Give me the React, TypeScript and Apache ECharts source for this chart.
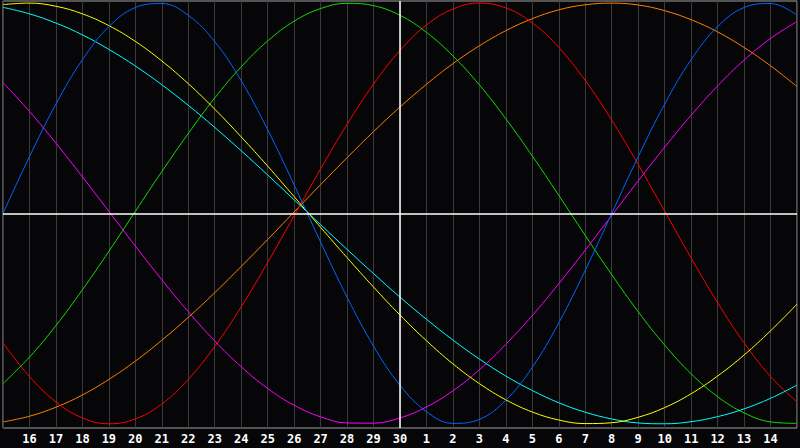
import React, { useEffect, useRef } from "react";
import * as echarts from "echarts";

const dayLabels = [
  "15", "16", "17", "18", "19", "20", "21", "22", "23", "24", "25", "26", "27", "28", "29", "30",
  "1", "2", "3", "4", "5", "6", "7", "8", "9", "10", "11", "12", "13", "14", "15",
];

const blueValues = [
  0, 0.27, 0.52, 0.731, 0.888, 0.979, 0.998, 0.942, 0.817, 0.631, 0.398, 0.136, -0.136, -0.398, -0.631, -0.817,
  -0.942, -0.998, -0.979, -0.888, -0.731, -0.52, -0.27, 0, 0.27, 0.52, 0.731, 0.888, 0.979, 0.998, 0.942,
];
const redValues = [
  -0.615, -0.775, -0.896, -0.972, -1.0, -0.977, -0.906, -0.789, -0.632, -0.444, -0.233, -0.011, 0.212, 0.424, 0.615, 0.775,
  0.896, 0.972, 1.0, 0.977, 0.906, 0.789, 0.632, 0.444, 0.233, 0.011, -0.212, -0.424, -0.615, -0.775, -0.896,
];
const greenValues = [
  -0.809, -0.683, -0.533, -0.363, -0.18, 0.01, 0.199, 0.38, 0.549, 0.697, 0.82, 0.914, 0.974, 0.999, 0.988, 0.942,
  0.861, 0.749, 0.611, 0.45, 0.273, 0.086, -0.105, -0.291, -0.467, -0.626, -0.762, -0.871, -0.948, -0.991, -0.998,
];
const magentaValues = [
  0.622, 0.485, 0.334, 0.174, 0.01, -0.155, -0.315, -0.467, -0.606, -0.729, -0.832, -0.912, -0.967, -0.996, -0.997, -0.972,
  -0.92, -0.843, -0.743, -0.622, -0.485, -0.334, -0.174, -0.01, 0.155, 0.315, 0.467, 0.606, 0.729, 0.832, 0.912,
];
const yellowValues = [
  0.993, 1.0, 0.985, 0.949, 0.893, 0.818, 0.725, 0.617, 0.496, 0.364, 0.225, 0.08, -0.066, -0.21, -0.35, -0.483,
  -0.605, -0.715, -0.809, -0.886, -0.944, -0.982, -0.999, -0.995, -0.969, -0.923, -0.857, -0.773, -0.673, -0.558, -0.431,
];
const cyanValues = [
  0.98, 0.949, 0.905, 0.849, 0.78, 0.701, 0.612, 0.514, 0.409, 0.298, 0.183, 0.065, -0.053, -0.171, -0.286, -0.398,
  -0.503, -0.602, -0.692, -0.773, -0.842, -0.9, -0.945, -0.977, -0.996, -1.0, -0.99, -0.966, -0.929, -0.879, -0.816,
];
const orangeValues = [
  -0.991, -0.964, -0.921, -0.863, -0.789, -0.702, -0.603, -0.494, -0.377, -0.252, -0.124, 0.007, 0.137, 0.265, 0.389, 0.506,
  0.614, 0.712, 0.797, 0.869, 0.926, 0.968, 0.992, 1.0, 0.991, 0.964, 0.921, 0.863, 0.789, 0.702, 0.603,
];

const curves = [
  { name: "orange", color: "#ff8000", data: orangeValues },
  { name: "red", color: "#ff0000", data: redValues },
  { name: "green", color: "#11dd00", data: greenValues },
  { name: "magenta", color: "#ff00ff", data: magentaValues },
  { name: "cyan", color: "#00ffff", data: cyanValues },
  { name: "yellow", color: "#ffff00", data: yellowValues },
  { name: "blue", color: "#0066ff", data: blueValues },
];

const todayIndex = 15;

export default function App() {
  const ref = useRef<HTMLDivElement>(null);
  useEffect(() => {
    if (!ref.current) return;
    const chart = echarts.init(ref.current, undefined, { renderer: "svg" });
    chart.setOption({
      animation: false,
      backgroundColor: "#060608",
      grid: {
        left: 1,
        top: 1,
        width: 798,
        height: 427,
        show: true,
        borderColor: "#a0a0a0",
        borderWidth: 1,
        backgroundColor: "transparent",
      },
      xAxis: {
        type: "category",
        boundaryGap: false,
        data: dayLabels,
        axisLine: { show: false },
        axisTick: { show: false },
        splitLine: { show: true, interval: 0, lineStyle: { color: "#3a3a3a", width: 1 } },
        axisLabel: {
          interval: 0,
          color: "#ffffff",
          fontFamily: "DejaVu Sans Mono",
          fontWeight: "bold",
          fontSize: 12,
          margin: 5,
          formatter: (v: string, i: number) => (i === 0 || i === dayLabels.length - 1 ? "" : v),
        },
      },
      yAxis: {
        type: "value",
        min: -1.02,
        max: 1.01,
        show: false,
        splitLine: { show: false },
      },
      series: [
        {
          type: "line",
          data: [],
          silent: true,
          z: 1,
          markLine: {
            silent: true,
            symbol: "none",
            label: { show: false },
            lineStyle: { color: "#ffffff", width: 1.5, type: "solid" },
            data: [{ xAxis: todayIndex }, { yAxis: 0 }],
          },
        },
        ...curves.map((c) => ({
          name: c.name,
          type: "line",
          data: c.data,
          smooth: 0.4,
          symbol: "none",
          z: 2,
          lineStyle: { color: c.color, width: 1 },
          itemStyle: { color: c.color },
        })),
      ],
    });
    return () => chart.dispose();
  }, []);
  return (
    <div
      ref={ref}
      style={{ position: "fixed", left: 0, top: 0, width: 800, height: 448 }}
    />
  );
}
